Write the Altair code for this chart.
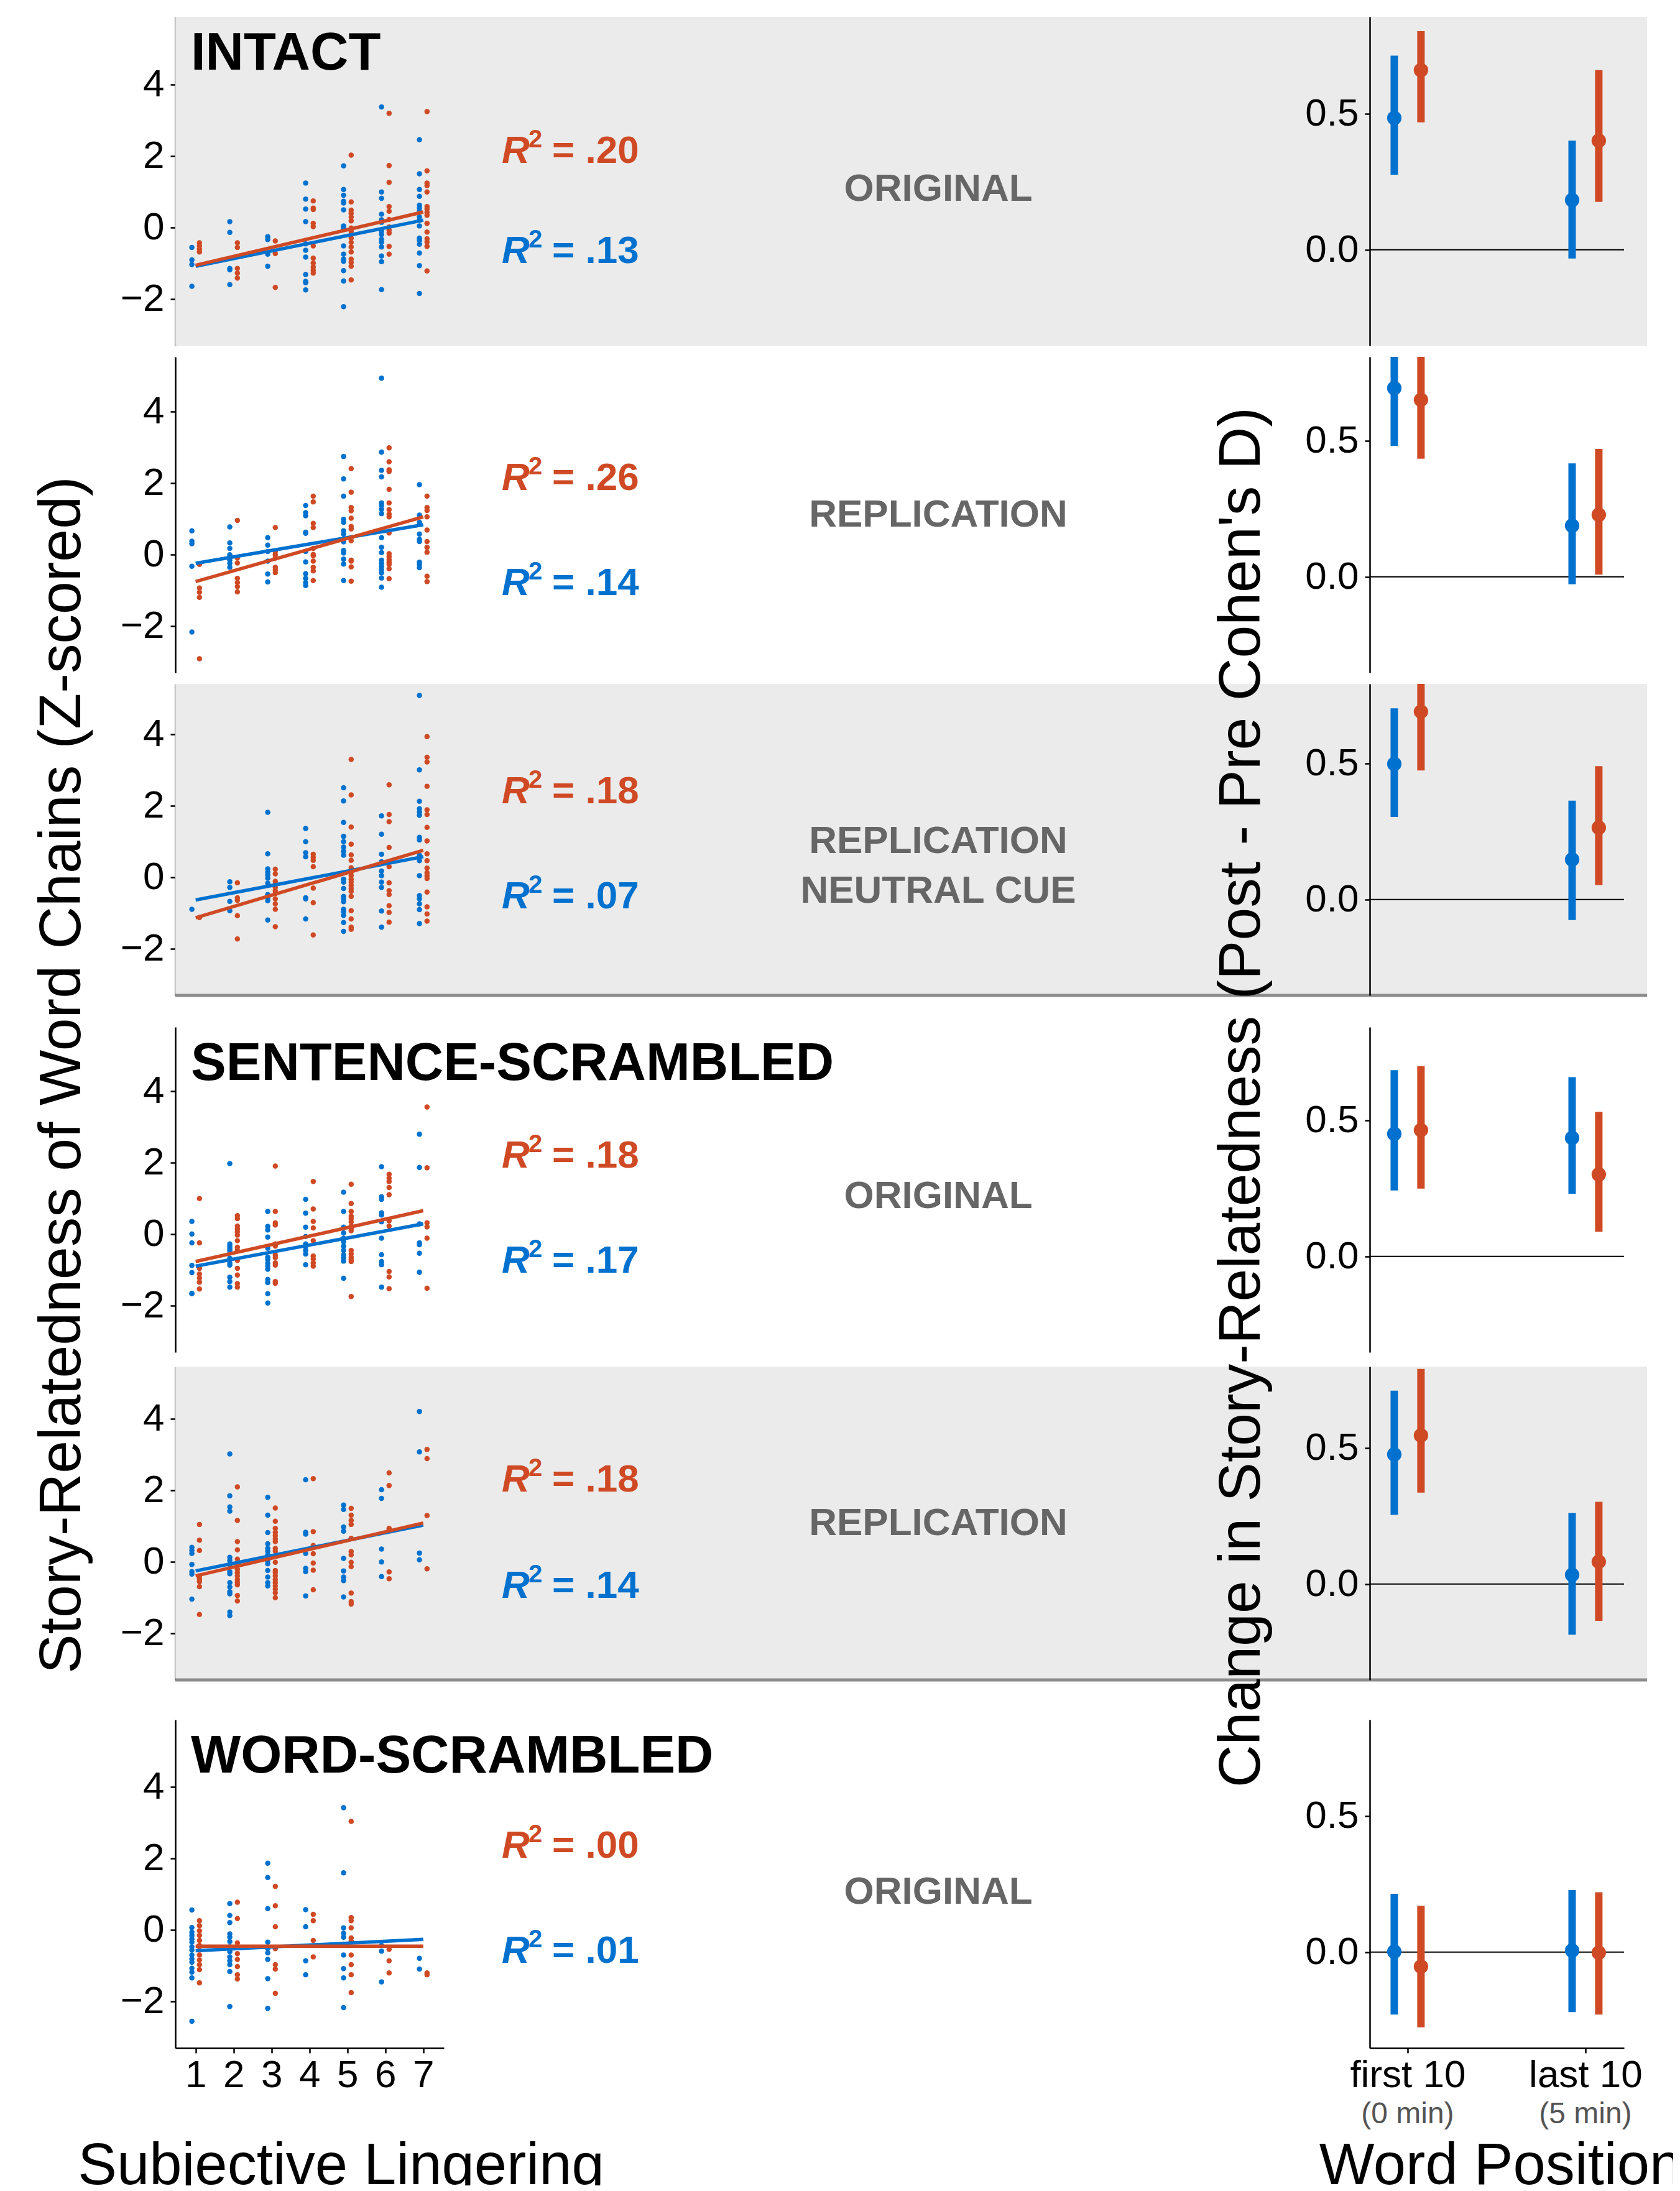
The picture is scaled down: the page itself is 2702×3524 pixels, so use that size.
import altair as alt
import pandas as pd

FONT = "Liberation Sans"
BLUE = "#0071CE"
RED = "#CF4A24"
PANEL_BG = "#EBEBEB"
RULE_GRAY = "#8C8C8C"
LABEL_GRAY = "#666666"
SUB_GRAY = "#555555"

# ---------------- data ----------------
LINGER = [1, 2, 3, 4, 5, 6, 7]
WORD_POS = [1, 2]
WORD_POS_LABELS = ["first 10", "last 10"]
WORD_POS_SUB = ["(0 min)", "(5 min)"]

ROW_TITLES = ["INTACT", "", "", "SENTENCE-SCRAMBLED", "", "WORD-SCRAMBLED"]
ROW_LABELS = [["ORIGINAL"], ["REPLICATION"], ["REPLICATION", "NEUTRAL CUE"],
              ["ORIGINAL"], ["REPLICATION"], ["ORIGINAL"]]
R2_RED = [".20", ".26", ".18", ".18", ".18", ".00"]
R2_BLUE = [".13", ".14", ".07", ".17", ".14", ".01"]

# z-scored story-relatedness, one inner list per lingering rating 1..7
INTACT_ORIG_BLUE = [
    [-0.56, -0.91, -1.04, -1.65],
    [0.16, -0.14, -1.15, -1.19, -1.60],
    [-0.26, -0.34, -0.75, -1.09],
    [1.24, 0.79, 0.51, 0.16, -0.46, -0.64, -0.83, -1.32, -1.51, -1.55, -1.75],
    [1.72, 1.06, 0.90, 0.73, 0.68, 0.49, 0.04, 0.01, -0.05, -0.52, -0.75, -0.89, -0.95, -1.21, -1.50, -2.22],
    [3.37, 0.99, 0.81, 0.37, 0.21, 0.14, -0.11, -0.20, -0.33, -0.42, -0.55, -0.80, -0.96, -1.74],
    [2.45, 1.50, 1.06, 0.87, 0.62, 0.54, 0.45, 0.29, 0.20, 0.04, -0.30, -0.36, -0.47, -0.72, -1.07, -1.85],
]
INTACT_ORIG_RED = [
    [-0.43, -0.52, -0.61, -0.69],
    [-0.43, -0.56, -1.15, -1.28, -1.42],
    [-0.38, -0.73, -1.68],
    [0.74, 0.54, 0.50, 0.11, 0.02, -0.52, -0.86, -1.00, -1.11, -1.20, -1.28],
    [2.02, 0.71, 0.48, 0.39, 0.29, 0.18, -0.02, -0.11, -0.20, -0.30, -0.42, -0.55, -0.69, -0.89, -0.98, -1.09, -1.47],
    [3.19, 1.73, 1.26, 0.58, 0.45, 0.22, 0.01, -0.08, -0.16, -0.53, -0.75],
    [3.24, 1.58, 1.24, 1.17, 0.99, 0.58, 0.51, 0.42, 0.34, 0.11, -0.13, -0.32, -0.41, -0.53, -1.22],
]
INTACT_REP_BLUE = [
    [0.66, 0.37, 0.30, -0.33, -2.17],
    [0.77, 0.32, 0.17, -0.01, -0.07, -0.16, -0.25, -0.36],
    [0.47, 0.26, 0.08, -0.19, -0.55, -0.77],
    [1.37, 1.17, 1.08, 0.62, 0.59, 0.08, -0.21, -0.54, -0.67, -0.79, -0.87],
    [2.74, 2.11, 1.63, 0.98, 0.90, 0.66, 0.57, 0.41, 0.35, 0.11, 0.04, -0.13, -0.27, -0.73],
    [4.93, 2.86, 2.35, 2.17, 1.44, 1.37, 1.26, 1.14, 0.47, 0.20, 0.05, -0.16, -0.25, -0.34, -0.43, -0.52, -0.66, -0.92],
    [1.95, 1.10, 0.90, 0.57, 0.42, 0.36, -0.22, -0.28, -0.37],
]
INTACT_REP_RED = [
    [-0.28, -0.94, -1.06, -1.20, -2.92],
    [0.95, -0.10, -0.24, -0.67, -0.79, -0.90, -1.05],
    [0.75, 0.08, -0.01, -0.10, -0.36, -0.43, -0.51],
    [1.63, 1.47, 0.87, 0.75, 0.17, 0.00, -0.04, -0.19, -0.36, -0.46, -0.73],
    [2.40, 1.74, 1.31, 1.22, 1.01, 0.78, 0.71, 0.47, 0.38, -0.16, -0.19, -0.35, -0.75],
    [2.98, 2.59, 2.37, 2.32, 1.82, 1.44, 1.25, 1.13, 1.05, 0.60, 0.02, -0.06, -0.15, -0.22, -0.28, -0.40, -0.68],
    [1.63, 1.31, 1.23, 1.05, 0.68, 0.36, 0.20, 0.06, -0.61, -0.76],
]
INTACT_NEUT_BLUE = [
    [-0.90],
    [-0.13, -0.29, -0.68, -0.94],
    [1.81, 0.65, 0.23, 0.14, 0.06, -0.03, -0.17, -0.49, -0.58, -0.66, -1.20],
    [1.36, 0.99, 0.68, 0.57, -0.58, -0.61, -1.17],
    [2.50, 2.13, 1.53, 1.14, 0.99, 0.84, 0.72, 0.61, -0.06, -0.14, -0.32, -0.54, -0.61, -0.69, -0.90, -0.97, -1.07, -1.27, -1.52],
    [1.71, 1.20, 0.64, 0.43, 0.17, 0.04, -0.14, -0.29, -0.95, -1.40],
    [5.08, 3.00, 2.12, 1.91, 1.82, 1.73, 1.11, 1.04, 0.61, 0.55, 0.46, 0.04, -0.52, -0.61, -0.75, -0.91, -1.30],
]
INTACT_NEUT_RED = [
    [-1.13],
    [-0.16, -0.58, -0.65, -1.08, -1.73],
    [0.22, 0.09, -0.12, -0.20, -0.29, -0.38, -0.46, -0.61, -0.75, -0.90, -1.39],
    [0.64, 0.55, 0.47, 0.29, -0.31, -0.72, -1.62],
    [3.29, 2.30, 1.40, 0.92, 0.62, 0.47, 0.26, 0.14, 0.04, -0.06, -0.14, -0.23, -0.32, -0.40, -0.54, -0.94, -1.17, -1.40, -1.46],
    [2.58, 1.75, 1.55, 0.83, 0.29, -0.16, -0.38, -0.49, -0.80, -0.99, -1.26],
    [3.93, 3.35, 3.22, 2.54, 1.88, 1.75, 1.39, 1.01, 0.65, 0.46, 0.25, 0.12, 0.04, -0.04, -0.42, -0.83, -1.03, -1.23],
]
SENT_ORIG_BLUE = [
    [0.35, 0.00, -0.25, -0.88, -1.08, -1.66, -1.67],
    [1.97, -0.28, -0.34, -0.40, -0.46, -0.53, -0.68, -0.81, -0.87, -1.21, -1.33, -1.49],
    [0.63, 0.21, 0.11, -0.09, -0.40, -0.65, -0.71, -0.82, -0.90, -0.99, -1.27, -1.36, -1.67, -1.93],
    [0.97, 0.58, 0.19, -0.07, -0.28, -0.36, -0.46, -0.56, -0.86],
    [1.17, 0.63, 0.19, 0.03, -0.12, -0.22, -0.34, -0.46, -0.59, -0.67, -0.76, -1.24],
    [1.88, 1.04, 0.97, 0.59, 0.53, 0.34, -0.12, -0.58, -0.77, -0.86, -1.49],
    [2.79, 1.86, 0.28, -0.25, -0.30, -0.54, -1.07],
]
SENT_ORIG_RED = [
    [0.99, -0.25, -0.96, -1.12, -1.23, -1.35, -1.54],
    [0.51, 0.43, 0.22, 0.14, 0.06, -0.03, -0.19, -0.37, -0.46, -0.74, -0.96, -1.15, -1.39, -1.49],
    [1.90, 0.63, 0.31, 0.25, -0.28, -0.34, -0.59, -0.66, -0.81, -0.87, -1.33, -1.38],
    [1.47, 0.70, 0.35, 0.17, -0.19, -0.62, -0.70, -0.81, -0.90],
    [1.39, 0.85, 0.63, 0.50, 0.43, 0.34, 0.22, 0.15, 0.09, -0.46, -0.56, -0.65, -0.71, -0.77, -1.75],
    [1.67, 1.56, 1.47, 1.30, 1.10, 0.37, 0.22, -1.05, -1.20, -1.53],
    [3.55, 1.85, 0.31, 0.20, -0.12, -1.52],
]
SENT_REP_BLUE = [
    [0.40, 0.31, 0.23, -0.08, -0.28, -0.35, -1.05],
    [3.01, 1.84, 1.53, 1.41, 0.12, 0.03, -0.09, -0.28, -0.34, -0.59, -0.71, -0.84, -0.90, -1.41, -1.51],
    [1.80, 1.30, 0.81, 0.50, 0.37, 0.29, 0.19, 0.09, 0.03, -0.06, -0.25, -0.43, -0.59, -0.68],
    [2.29, 0.82, 0.77, 0.23, -0.19, -0.28, -0.96],
    [1.58, 1.46, 0.97, 0.85, 0.09, -0.26, -0.43, -0.53, -0.99],
    [2.01, 1.77, 0.35, -0.01, -0.42],
    [4.20, 3.07, 0.24, 0.05],
]
SENT_REP_RED = [
    [1.04, 0.60, 0.31, -0.40, -0.48, -0.56, -0.70, -1.48],
    [2.09, 1.15, 0.56, 0.33, 0.07, -0.12, -0.22, -0.31, -0.40, -0.50, -0.58, -0.65, -0.95, -1.10],
    [1.50, 1.13, 0.93, 0.82, 0.73, 0.64, 0.56, 0.37, 0.29, 0.15, -0.02, -0.25, -0.31, -0.40, -0.50, -0.59, -0.68, -0.77, -0.87, -1.01],
    [2.32, 0.84, 0.45, 0.22, -0.04, -0.24, -0.79],
    [1.49, 1.30, 1.15, 1.04, 0.65, 0.28, 0.19, -0.02, -0.14, -0.88, -1.12, -1.19],
    [2.48, 2.13, 0.93, -0.29, -0.48],
    [3.14, 2.88, 1.29, -0.20],
]
WORD_ORIG_BLUE = [
    [0.55, 0.06, -0.07, -0.16, -0.26, -0.35, -0.48, -0.57, -0.71, -0.82, -0.91, -1.08, -1.19, -1.35, -2.56],
    [0.73, 0.40, 0.20, -0.12, -0.21, -0.33, -0.48, -0.62, -0.76, -0.87, -0.98, -1.17, -2.15],
    [1.86, 1.46, 0.59, -0.35, -0.53, -0.65, -0.83, -1.37, -2.20],
    [0.56, 0.08, -0.87, -1.26],
    [3.41, 1.59, 0.05, -0.10, -0.21, -0.71, -1.09, -1.35, -2.18],
    [-0.44, -0.60, -1.46],
    [-0.80, -1.10],
]
WORD_ORIG_RED = [
    [0.25, 0.11, -0.03, -0.16, -0.30, -0.44, -0.57, -0.71, -0.85, -0.98, -1.12, -1.49],
    [0.77, 0.31, -0.37, -0.67, -0.83, -1.03, -1.26, -1.38],
    [1.21, 0.67, 0.08, -0.53, -0.98, -1.10, -1.78],
    [0.43, 0.25, -0.30, -0.76],
    [3.03, 0.34, 0.25, 0.05, -0.23, -0.32, -0.71, -0.98, -1.26, -1.76],
    [-0.55, -0.87, -1.21],
    [-1.21, -1.26],
]
PTS_BLUE = [INTACT_ORIG_BLUE, INTACT_REP_BLUE, INTACT_NEUT_BLUE, SENT_ORIG_BLUE, SENT_REP_BLUE, WORD_ORIG_BLUE]
PTS_RED = [INTACT_ORIG_RED, INTACT_REP_RED, INTACT_NEUT_RED, SENT_ORIG_RED, SENT_REP_RED, WORD_ORIG_RED]

# fitted regression value at lingering = 1 and lingering = 7
FIT_X = [1, 7]
FIT_BLUE = [[-1.09, 0.20], [-0.25, 0.83], [-0.64, 0.57], [-0.90, 0.28], [-0.26, 1.02], [-0.59, -0.27]]
FIT_RED = [[-1.06, 0.43], [-0.76, 1.05], [-1.14, 0.75], [-0.77, 0.65], [-0.40, 1.08], [-0.46, -0.46]]

# Cohen's d (post - pre): [first 10, last 10] per row
EFF_BLUE_EST = [[0.484, 0.183], [0.693, 0.188], [0.498, 0.147], [0.450, 0.435], [0.476, 0.034], [0.002, 0.006]]
EFF_BLUE_LO = [[0.276, -0.032], [0.481, -0.027], [0.303, -0.075], [0.242, 0.230], [0.254, -0.186], [-0.229, -0.220]]
EFF_BLUE_HI = [[0.713, 0.401], [0.905, 0.417], [0.702, 0.363], [0.684, 0.658], [0.710, 0.261], [0.214, 0.228]]
EFF_RED_EST = [[0.660, 0.401], [0.650, 0.228], [0.690, 0.264], [0.464, 0.301], [0.546, 0.082], [-0.053, -0.002]]
EFF_RED_LO = [[0.468, 0.176], [0.434, 0.008], [0.474, 0.053], [0.249, 0.091], [0.336, -0.135], [-0.276, -0.229]]
EFF_RED_HI = [[0.803, 0.660], [0.866, 0.470], [0.906, 0.490], [0.699, 0.531], [0.790, 0.302], [0.170, 0.220]]

# ---------------- layout ----------------
HEIGHTS = [529, 508, 501, 523, 504, 528]
GAPS = [18, 18, 51, 23, 64]
SC_W, EF_W, COL_GAP = 432, 409, 1489
BG_W = 2367
PX_Z, Z_MIN = 57.5, -3.31
PX_D, D_MIN = 438.0, -0.352
GRAY_ROWS = [True, False, True, False, True, False]
RULE_ROWS = [False, False, True, False, True, False]
R2_RED_Y = [1.80, 1.81, 2.07, 1.85, 1.96, 2.02]
R2_BLUE_Y = [-0.99, -1.13, -0.87, -1.08, -1.02, -0.92]
LABEL_Y = [1.08, 1.10, 1.01, 1.05, 1.08, 1.06]

ONE = pd.DataFrame({"k": [0]})
COLOR = alt.Color("series:N", scale=alt.Scale(domain=["blue", "red"], range=[BLUE, RED]), legend=None)


def r2_layers(ybase, val, col):
    common = dict(font=FONT, fontWeight="bold", align="left", baseline="alphabetic", color=col)
    r = alt.Chart(ONE).mark_text(text="R", fontSize=62, fontStyle="italic", **common).encode(
        x=alt.value(525), y=alt.datum(ybase))
    sup = alt.Chart(ONE).mark_text(text="2", fontSize=40, dy=-25, **common).encode(
        x=alt.value(568), y=alt.datum(ybase))
    rest = alt.Chart(ONE).mark_text(text="= " + val, fontSize=62, **common).encode(
        x=alt.value(606), y=alt.datum(ybase))
    return [r, sup, rest]


def scatter_cell(i):
    h = HEIGHTS[i]
    last = i == 5
    recs = []
    for s, arr in (("blue", PTS_BLUE[i]), ("red", PTS_RED[i])):
        for xv, ys in zip(LINGER, arr):
            for yv in ys:
                recs.append({"x": xv, "y": yv, "series": s})
    df = pd.DataFrame(recs)
    fit = pd.DataFrame(
        [{"xp": FIT_X[k], "y": FIT_BLUE[i][k], "series": "blue"} for k in range(2)]
        + [{"xp": FIT_X[k], "y": FIT_RED[i][k], "series": "red"} for k in range(2)])

    if last:
        xaxis = alt.Axis(values=LINGER, title="Subjective Lingering", titleFontSize=94,
                         titleFontWeight="normal", titleX=266, titleY=218, titleAlign="center",
                         titleBaseline="alphabetic", labelFontSize=62, labelPadding=5, format="d")
    else:
        xaxis = None
    X = alt.X("xp:Q", scale=alt.Scale(domain=[0.464, 7.546], nice=False, zero=False), axis=xaxis)
    Y = alt.Y("y:Q", scale=alt.Scale(domain=[Z_MIN, Z_MIN + h / PX_Z], nice=False, zero=False),
              axis=alt.Axis(values=[-2, 0, 2, 4], format="d", title=None, labelFontSize=62,
                            labelPadding=10))

    layers = []
    if GRAY_ROWS[i]:
        layers.append(alt.Chart(ONE).mark_rect(color=PANEL_BG).encode(
            x=alt.value(0), x2=alt.value(BG_W), y=alt.value(0), y2=alt.value(h)))
    if RULE_ROWS[i]:
        layers.append(alt.Chart(ONE).mark_rule(color=RULE_GRAY, strokeWidth=5).encode(
            x=alt.value(0), x2=alt.value(BG_W), y=alt.value(h)))
    layers.append(alt.Chart(df).transform_calculate(
        xp="datum.x + (datum.series == 'blue' ? -0.1 : 0.1)"
    ).mark_circle(size=72, opacity=1).encode(x=X, y=Y, color=COLOR))
    layers.append(alt.Chart(fit).mark_line(strokeWidth=5.5).encode(x=X, y=Y, color=COLOR))
    if ROW_TITLES[i]:
        layers.append(alt.Chart(ONE).mark_text(
            text=ROW_TITLES[i], font=FONT, fontSize=85, fontWeight="bold", align="left",
            baseline="alphabetic", color="black").encode(x=alt.value(25), y=alt.value(85)))
    layers += r2_layers(R2_RED_Y[i], R2_RED[i], RED)
    layers += r2_layers(R2_BLUE_Y[i], R2_BLUE[i], BLUE)
    lab = ROW_LABELS[i] if len(ROW_LABELS[i]) > 1 else ROW_LABELS[i][0]
    layers.append(alt.Chart(ONE).mark_text(
        text=lab, font=FONT, fontSize=62, fontWeight="bold", color=LABEL_GRAY, align="center",
        baseline="middle", lineHeight=80).encode(x=alt.value(1227), y=alt.datum(LABEL_Y[i])))
    if last:
        layers.append(alt.Chart(ONE).mark_text(
            text="Story-Relatedness of Word Chains (Z-scored)", font=FONT, fontSize=95, angle=270,
            align="center", baseline="middle", color="black").encode(
            x=alt.value(-182), y=alt.value(-1037)))
    return alt.layer(*layers).properties(width=SC_W, height=h)


def effect_cell(i):
    h = HEIGHTS[i]
    last = i == 5
    recs = []
    for k, xv in enumerate(WORD_POS):
        recs.append({"x": xv, "series": "blue", "est": EFF_BLUE_EST[i][k],
                     "lo": EFF_BLUE_LO[i][k], "hi": EFF_BLUE_HI[i][k]})
        recs.append({"x": xv, "series": "red", "est": EFF_RED_EST[i][k],
                     "lo": EFF_RED_LO[i][k], "hi": EFF_RED_HI[i][k]})
    df = pd.DataFrame(recs)
    if last:
        xaxis = alt.Axis(values=WORD_POS,
                         labelExpr=f"datum.value == 1 ? '{WORD_POS_LABELS[0]}' : '{WORD_POS_LABELS[1]}'",
                         title="Word Position", titleFontSize=94, titleFontWeight="normal",
                         titleX=210, titleY=218, titleAlign="center", titleBaseline="alphabetic",
                         labelFontSize=62, labelPadding=5, labelLimit=600)
    else:
        xaxis = None
    xs = alt.Scale(domain=[0.787, 2.217], nice=False, zero=False)
    ys = alt.Scale(domain=[D_MIN, D_MIN + h / PX_D], nice=False, zero=False)
    yax = alt.Axis(values=[0, 0.5], format=".1f", title=None, labelFontSize=62, labelPadding=10)
    X = alt.X("xp:Q", scale=xs, axis=xaxis)
    base = alt.Chart(df).transform_calculate(
        xp="datum.x + (datum.series == 'blue' ? -0.075 : 0.075)")
    layers = [
        alt.Chart(ONE).mark_rule(color="black", strokeWidth=2).encode(
            y=alt.datum(0, scale=ys, axis=yax)),
        base.mark_rule(strokeWidth=12, clip=True).encode(
            x=X, y=alt.Y("lo:Q", scale=ys, axis=yax), y2="hi:Q", color=COLOR),
        base.mark_circle(size=540, opacity=1, clip=True).encode(
            x=X, y=alt.Y("est:Q", scale=ys, axis=yax), color=COLOR),
    ]
    if last:
        sub = pd.DataFrame({"xp": WORD_POS, "t": WORD_POS_SUB})
        layers.append(alt.Chart(sub).mark_text(
            font=FONT, fontSize=48, color=SUB_GRAY, align="center", baseline="middle").encode(
            x=X, y=alt.value(635), text="t:N"))
        layers.append(alt.Chart(ONE).mark_text(
            text="Change in Story-Relatedness (Post - Pre Cohen's D)", font=FONT, fontSize=95,
            angle=270, align="center", baseline="middle", color="black").encode(
            x=alt.value(-206), y=alt.value(-1001)))
    return alt.layer(*layers).properties(width=EF_W, height=h)


def spacer(w, h):
    return alt.Chart(ONE).mark_point(opacity=0).encode(
        x=alt.value(0), y=alt.value(0)).properties(width=w, height=h)


cells = []
for i in range(6):
    cells += [scatter_cell(i), effect_cell(i)]
    if i < 5:
        cells += [spacer(SC_W, GAPS[i]), spacer(EF_W, GAPS[i])]

chart = alt.concat(
    *cells, columns=2, spacing={"row": 0, "column": COL_GAP}, bounds="flush", align="each"
).properties(
    padding={"left": 44, "top": 19, "right": -14, "bottom": -16}
).configure_view(
    strokeWidth=0
).configure_axis(
    labelFont=FONT, titleFont=FONT, labelColor="black", titleColor="black",
    domainColor="black", domainWidth=2.5, tickColor="black", tickWidth=2.5, tickSize=8,
    grid=False, labelFlush=False, labelOverlap=False, zindex=1
)

chart.save("out.html", embed_options={"renderer": "svg", "actions": False})
